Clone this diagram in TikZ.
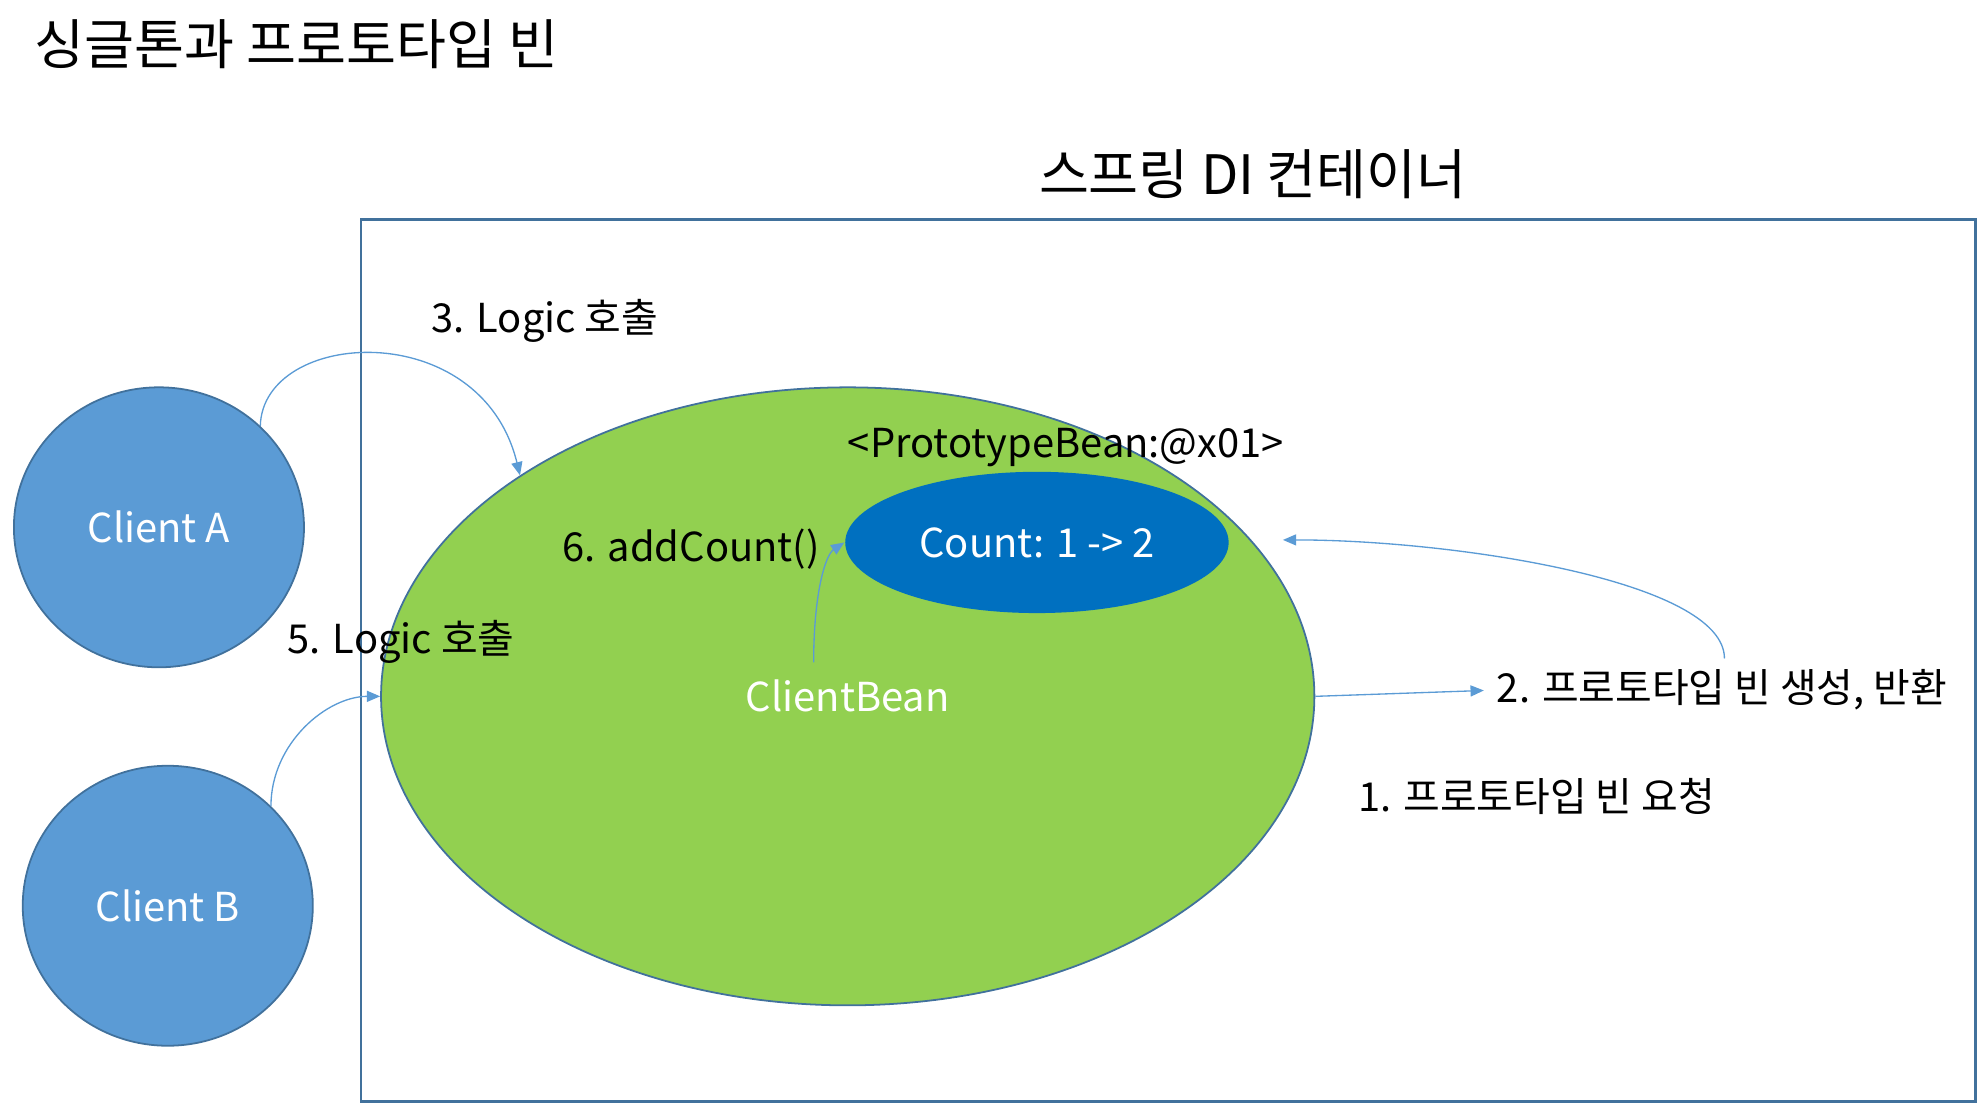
\documentclass[tikz,border=0pt]{standalone}
\usepackage{fontspec}
\setmainfont{Noto Sans CJK KR}
\usetikzlibrary{shapes.geometric}
\usetikzlibrary{arrows.meta}
\definecolor{clientfill}{HTML}{5B9BD5}
\definecolor{shapeline}{HTML}{41719C}
\definecolor{beangreen}{HTML}{92D050}
\definecolor{protoblue}{HTML}{0070C0}
\newcommand{\labelfont}{\fontsize{18}{22}\selectfont}
\newcommand{\headfont}{\fontsize{24.5}{29}\selectfont}
\tikzstyle{client}=[ellipse,draw=shapeline,fill=clientfill,line width=0.8pt,minimum width=4.6cm,minimum height=4.44cm,inner sep=0pt,text=white,font=\labelfont]
\tikzstyle{bean}=[ellipse,draw=shapeline,line width=0.8pt,inner sep=0pt,font=\labelfont]
\tikzstyle{tag}=[inner sep=0pt,font=\labelfont]
\tikzstyle{callarrow}=[clientfill,line width=0.6pt,-{Triangle[length=6pt,width=5pt]}]

\begin{document}
\begin{tikzpicture}[x=0.02cm,y=-0.02cm]
\useasboundingbox (0,0) rectangle (1568,875);
% titles
\node[inner sep=0pt,font=\headfont] (title) at (235,35) {싱글톤과 프로토타입 빈};
\node[inner sep=0pt,font=\headfont] (containerName) at (993,138) {스프링 DI 컨테이너};
% container box
\node[draw=shapeline,line width=1.2pt,minimum width=25.6cm,minimum height=13.98cm,anchor=north west,inner sep=0pt] (container) at (285,173) {};
% clients
\node[client] (clientA) at (126,418) {Client A};
\node[client] (clientB) at (133,718) {Client B};
% beans
\node[bean,fill=beangreen,text=white,minimum width=14.8cm,minimum height=9.8cm] (clientBean) at (672,552) {ClientBean};
\node[bean,draw=none,fill=protoblue,text=white,minimum width=6.08cm,minimum height=2.24cm] (protoBean) at (822,430) {Count: 1 -> 2};
\node[tag] (protoName) at (845,355) {<PrototypeBean:@x01>};
% step labels
\node[tag] (step3) at (432,254) {3. Logic 호출};
\node[tag] (step5) at (318,509) {5. Logic 호출};
\node[tag] (step6) at (548,435) {6. addCount()};
\node[tag] (step2) at (1365,547) {2. 프로토타입 빈 생성, 반환};
\node[tag] (step1) at (1218,631) {1. 프로토타입 빈 요청};
\coordinate (addStart) at (645,525);
\coordinate (returnStart) at (1367,522);
\coordinate (returnEnd) at (1017,428);
% connectors
\draw[callarrow] (clientA.45) .. controls +(2,-77) and +(-31,-127) .. (clientBean.146);
\draw[callarrow] (clientB.44) .. controls +(0,-50) and +(-42,0) .. (clientBean.west);
\draw[callarrow] (addStart) .. controls +(0,-55) and +(-15,10) .. (protoBean.west);
\draw[callarrow,shorten >=0.2cm] (clientBean.east) -- (step2.west);
\draw[callarrow] (returnStart) .. controls +(0,-62) and +(133,0) .. (returnEnd);
\end{tikzpicture}
\end{document}
